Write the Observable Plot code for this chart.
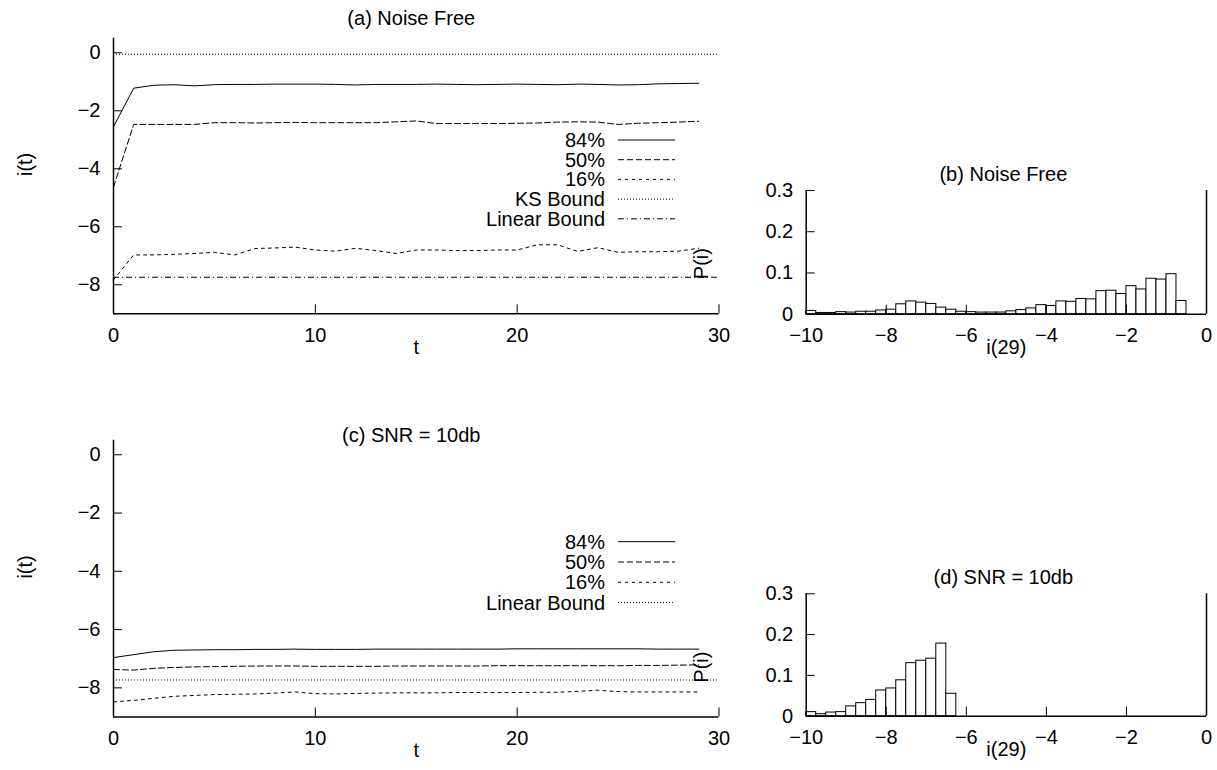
<!DOCTYPE html>
<html><head><meta charset="utf-8">
<script src="https://cdn.jsdelivr.net/npm/d3@7"></script>
<script src="https://cdn.jsdelivr.net/npm/@observablehq/plot@0.6"></script>
<style>
body{margin:0;background:#fff;}
#chart{position:relative;width:1217px;height:770px;overflow:hidden;background:#fff;}
#chart svg{position:absolute;}
</style></head><body><div id="chart"></div>
<script>
// ---------- data ----------
const tSteps = [0,1,2,3,4,5,6,7,8,9,10,11,12,13,14,15,16,17,18,19,20,21,22,23,24,25,26,27,28,29];

const a84 = [-2.55,-1.22,-1.12,-1.10,-1.14,-1.10,-1.09,-1.09,-1.08,-1.08,-1.08,-1.09,-1.11,-1.09,-1.09,-1.09,-1.08,-1.09,-1.10,-1.09,-1.08,-1.09,-1.10,-1.08,-1.09,-1.11,-1.10,-1.07,-1.06,-1.05];
const a50 = [-4.63,-2.47,-2.47,-2.47,-2.47,-2.41,-2.41,-2.42,-2.41,-2.40,-2.41,-2.41,-2.41,-2.41,-2.38,-2.35,-2.44,-2.44,-2.44,-2.44,-2.43,-2.42,-2.39,-2.38,-2.39,-2.47,-2.43,-2.41,-2.39,-2.36];
const a16 = [-7.83,-6.97,-6.97,-6.95,-6.92,-6.88,-6.97,-6.75,-6.73,-6.70,-6.80,-6.84,-6.74,-6.82,-6.92,-6.80,-6.80,-6.82,-6.82,-6.80,-6.80,-6.62,-6.62,-6.85,-6.72,-6.88,-6.86,-6.86,-6.84,-6.74];
const aKSBound = -0.05;
const aLinearBound = -7.74;

const c84 = [-6.96,-6.86,-6.76,-6.71,-6.70,-6.69,-6.69,-6.68,-6.68,-6.67,-6.68,-6.68,-6.68,-6.67,-6.67,-6.67,-6.67,-6.67,-6.67,-6.67,-6.66,-6.66,-6.66,-6.66,-6.66,-6.66,-6.66,-6.67,-6.67,-6.67];
const c50 = [-7.37,-7.39,-7.33,-7.30,-7.28,-7.27,-7.26,-7.25,-7.25,-7.25,-7.26,-7.26,-7.26,-7.26,-7.25,-7.25,-7.25,-7.25,-7.25,-7.24,-7.24,-7.24,-7.24,-7.24,-7.24,-7.24,-7.23,-7.23,-7.22,-7.21];
const c16 = [-8.48,-8.43,-8.36,-8.29,-8.26,-8.23,-8.22,-8.21,-8.18,-8.14,-8.20,-8.21,-8.19,-8.18,-8.17,-8.17,-8.17,-8.16,-8.16,-8.16,-8.16,-8.15,-8.15,-8.12,-8.08,-8.13,-8.14,-8.14,-8.14,-8.14];
const cLinearBound = -7.73;

// histograms of i(29): bins of width 0.25 starting at -10
const binStart = -10, binWidth = 0.25;
const bHist = [0.008,0.003,0.003,0.005,0.004,0.006,0.006,0.009,0.011,0.024,0.031,0.028,0.025,0.016,0.011,0.006,0.005,0.004,0.004,0.004,0.007,0.010,0.014,0.022,0.020,0.031,0.030,0.037,0.036,0.056,0.057,0.049,0.068,0.060,0.086,0.084,0.097,0.032];
const dHist = [0.010,0.005,0.009,0.010,0.024,0.032,0.040,0.063,0.068,0.088,0.130,0.136,0.141,0.178,0.055];

const iTicks = [0,-2,-4,-6,-8];
const tTicks = [0,10,20,30];
const tTickMarks = [10,20,30];
const pTicks = [0,0.1,0.2,0.3];
const pTickLabels = ["0","0.1","0.2","0.3"];
const hxTicks = [-10,-8,-6,-4,-2,0];
const hxTickMarks = [-8,-6,-4,-2];

const legendA = ["84%","50%","16%","KS Bound","Linear Bound"];
const legendC = ["84%","50%","16%","Linear Bound"];

// ---------- styles ----------
const FONT = "'Liberation Sans', Arial, sans-serif";
const DASH = {"84%": null, "50%": "6,3", "16%": "3,4", "KS Bound": "1,2", "Linear Bound": "6,3,1,3", "dot": "1,2"};

const chart = document.getElementById("chart");
function place(svg, left, top) {
  svg.style.left = left + "px";
  svg.style.top = top + "px";
  chart.appendChild(svg);
}
function series(vals) { return tSteps.map((t, i) => ({t, v: vals[i]})); }

function legend(svg, labels, dashes, textRight, y0, step, lx1, lx2) {
  const g = d3.select(svg).append("g")
    .attr("font-family", FONT).attr("font-size", 20).attr("fill", "#000");
  labels.forEach((lab, i) => {
    const y = y0 + i * step;
    g.append("text").attr("x", textRight).attr("y", y).attr("dy", "0.35em")
      .attr("text-anchor", "end").text(lab);
    g.append("line").attr("x1", lx1).attr("x2", lx2).attr("y1", y).attr("y2", y)
      .attr("stroke", "#000").attr("stroke-width", 1)
      .attr("stroke-dasharray", dashes[i]);
  });
}

function timePanel(opts) {
  const {W, H, mt, mb, title, titleDy, lines, bounds, pDy} = opts;
  const ml = 113, mr = W - 718.5;
  const fw = W - ml - mr, fh = H - mt - mb;
  return Plot.plot({
    width: W, height: H,
    marginLeft: ml, marginRight: mr, marginTop: mt, marginBottom: mb,
    style: {fontFamily: FONT, fontSize: "20px", color: "#000", background: "transparent"},
    x: {domain: [0, 30]},
    y: {domain: [-9, 0.5]},
    marks: [
      ...bounds.map(b => Plot.ruleY([b.v], {stroke: "#000", strokeWidth: 1, strokeDasharray: b.dash})),
      ...lines.map(l => Plot.line(series(l.v), {x: "t", y: "v", stroke: "#000", strokeWidth: 1, strokeDasharray: l.dash})),
      Plot.ruleY(iTicks, {stroke: "#000", strokeWidth: 1, insetRight: fw - 9}),
      Plot.ruleX(tTickMarks, {stroke: "#000", strokeWidth: 1, insetTop: fh - 9}),
      Plot.ruleX([0], {stroke: "#000", strokeWidth: 1.5}),
      Plot.ruleY([-9], {stroke: "#000", strokeWidth: 1.5}),
      Plot.axisY({ticks: iTicks, tickSize: 0, tickPadding: 13, label: null}),
      Plot.axisX({ticks: tTicks, tickSize: 0, tickPadding: 14, label: null}),
      Plot.text([title], {frameAnchor: "top", dx: -5, dy: titleDy}),
      Plot.text(["i(t)"], {frameAnchor: "left", dx: -88, rotate: -90}),
      Plot.text(["t"], {frameAnchor: "bottom", dy: 40}),
      Plot.text(["P(i)"], {frameAnchor: "right", dx: -17, dy: pDy, rotate: -90})
    ]
  });
}

function histPanel(opts) {
  const {W, H, mt, mb, title, data} = opts;
  const ml = 65.7, mr = 11;
  const fw = W - ml - mr, fh = H - mt - mb;
  return Plot.plot({
    width: W, height: H,
    marginLeft: ml, marginRight: mr, marginTop: mt, marginBottom: mb,
    style: {fontFamily: FONT, fontSize: "20px", color: "#000", background: "transparent"},
    x: {domain: [-10, 0]},
    y: {domain: [0, 0.3]},
    marks: [
      Plot.rectY(data, {
        x1: (d, i) => binStart + i * binWidth,
        x2: (d, i) => binStart + (i + 1) * binWidth,
        y: d => d, fill: "white", stroke: "#000", strokeWidth: 1
      }),
      Plot.ruleY(pTicks, {stroke: "#000", strokeWidth: 1, insetRight: fw - 9}),
      Plot.ruleX(hxTickMarks, {stroke: "#000", strokeWidth: 1, insetTop: fh - 9}),
      Plot.ruleX([-10, 0], {stroke: "#000", strokeWidth: 1.5}),
      Plot.ruleY([0], {stroke: "#000", strokeWidth: 1.5}),
      Plot.axisY({ticks: pTicks, tickFormat: (d, i) => pTickLabels[i], tickSize: 0, tickPadding: 13, label: null}),
      Plot.axisX({ticks: hxTicks, tickSize: 0, tickPadding: 14, label: null}),
      Plot.text([title], {frameAnchor: "top", dx: -3, dy: -24}),
      Plot.text(["i(29)"], {frameAnchor: "bottom", dy: 40})
    ]
  });
}

// (a)
const svgA = timePanel({
  W: 740, H: 380, mt: 37.8, mb: 380 - 313.3,
  title: "(a) Noise Free", titleDy: -28, pDy: 72,
  bounds: [{v: aKSBound, dash: DASH["KS Bound"]}, {v: aLinearBound, dash: DASH["Linear Bound"]}],
  lines: [{v: a84, dash: DASH["84%"]}, {v: a50, dash: DASH["50%"]}, {v: a16, dash: DASH["16%"]}]
});
legend(svgA, legendA, legendA.map(l => DASH[l]), 605, 140, 19.7, 618, 675);
place(svgA, 0, 0);

// (b)
const svgB = histPanel({W: 477, H: 230, mt: 40, mb: 230 - 163.7, title: "(b) Noise Free", data: bHist});
place(svgB, 740, 150);

// (c)
const svgC = timePanel({
  W: 740, H: 370, mt: 39.7, mb: 370 - 316.5,
  title: "(c) SNR = 10db", titleDy: -12, pDy: 73,
  bounds: [{v: cLinearBound, dash: DASH["dot"]}],
  lines: [{v: c84, dash: DASH["84%"]}, {v: c50, dash: DASH["50%"]}, {v: c16, dash: DASH["16%"]}]
});
legend(svgC, legendC, [DASH["84%"], DASH["50%"], DASH["16%"], DASH["dot"]], 605, 141.7, 20.3, 618, 675);
place(svgC, 0, 400);

// (d)
const svgD = histPanel({W: 477, H: 210, mt: 33.3, mb: 210 - 155.7, title: "(d) SNR = 10db", data: dHist});
place(svgD, 740, 560);
</script>
</body></html>
